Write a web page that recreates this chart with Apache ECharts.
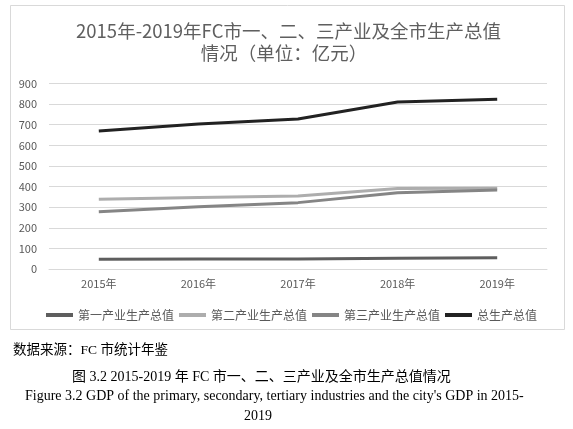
<!DOCTYPE html>
<html><head><meta charset="utf-8">
<script src="https://cdn.jsdelivr.net/npm/echarts@6/dist/echarts.min.js"></script>
<style>html,body{margin:0;padding:0;background:#fff}#c{width:573px;height:429px}</style>
</head><body><div id="c"></div>
<script>
var categories = ['2015年','2016年','2017年','2018年','2019年'];
var primary = [47, 48, 49, 52, 54];
var secondary = [338, 347, 354, 391, 392];
var tertiary = [278, 302, 322, 370, 383];
var total = [669, 703, 728, 810, 823];
var seriesNames = ['第一产业生产总值','第二产业生产总值','第三产业生产总值','总生产总值'];
var yTicks = [0,100,200,300,400,500,600,700,800,900];

var chart = echarts.init(document.getElementById('c'));
var cjk = '"Noto Sans CJK SC", "Noto Sans", sans-serif';
var serif = '"Liberation Serif", "Noto Sans CJK SC", serif';
function mk(name, data, color){
  return {name:name, type:'line', data:data, symbol:'none', smooth:false,
    lineStyle:{color:color, width:3}, itemStyle:{color:color}};
}
chart.setOption({
  animation:false,
  grid:{left:49, right:26, top:83.5, bottom:160},
  legend:{top:304, left:41, itemWidth:27, itemHeight:4, itemGap:5, icon:'rect',
    textStyle:{fontFamily:cjk, fontSize:12, color:'#595959'},
    data:seriesNames},
  xAxis:{type:'category', data:categories, boundaryGap:true,
    axisLine:{show:true, lineStyle:{color:'#d9d9d9'}}, axisTick:{show:false},
    axisLabel:{fontFamily:cjk, fontSize:11, color:'#595959', margin:9}},
  yAxis:{type:'value', min:0, max:900, interval:100,
    axisLine:{show:false}, axisTick:{show:false},
    splitLine:{lineStyle:{color:'#d9d9d9', width:1}},
    axisLabel:{fontFamily:cjk, fontSize:11, color:'#595959', margin:12,
      formatter:function(v){return yTicks.indexOf(v)>=0?String(v):'';}}},
  series:[mk(seriesNames[0], primary, '#5e5e5e'), mk(seriesNames[1], secondary, '#adadad'),
          mk(seriesNames[2], tertiary, '#858585'), mk(seriesNames[3], total, '#222222')],
  graphic:[
    {type:'rect', shape:{x:10.5, y:5.5, width:554, height:324}, z:-1,
      style:{fill:'#fff', stroke:'#d9d9d9', lineWidth:1}},
    {type:'text', x:288.5, y:31, style:{text:'2015年-2019年FC市一、二、三产业及全市生产总值', font:'18.5px '+cjk, fill:'#5f5f5f', textAlign:'center', textVerticalAlign:'middle'}},
    {type:'text', x:284, y:53, style:{text:'情况（单位：亿元）', font:'18.5px '+cjk, fill:'#5f5f5f', textAlign:'center', textVerticalAlign:'middle'}},
    {type:'text', x:13, y:350, style:{text:'数据来源：FC 市统计年鉴', font:'13.5px '+serif, fill:'#000', textVerticalAlign:'middle'}},
    {type:'text', x:72, y:377, style:{text:'图 3.2 2015-2019 年 FC 市一、二、三产业及全市生产总值情况', font:'14px '+serif, fill:'#000', textVerticalAlign:'middle'}},
    {type:'text', x:25, y:396, style:{text:"Figure 3.2 GDP of the primary, secondary, tertiary industries and the city's GDP in 2015-", font:'14px '+serif, fill:'#000', textVerticalAlign:'middle'}},
    {type:'text', x:244, y:416, style:{text:'2019', font:'14px '+serif, fill:'#000', textVerticalAlign:'middle'}}
  ]
});
</script></body></html>
